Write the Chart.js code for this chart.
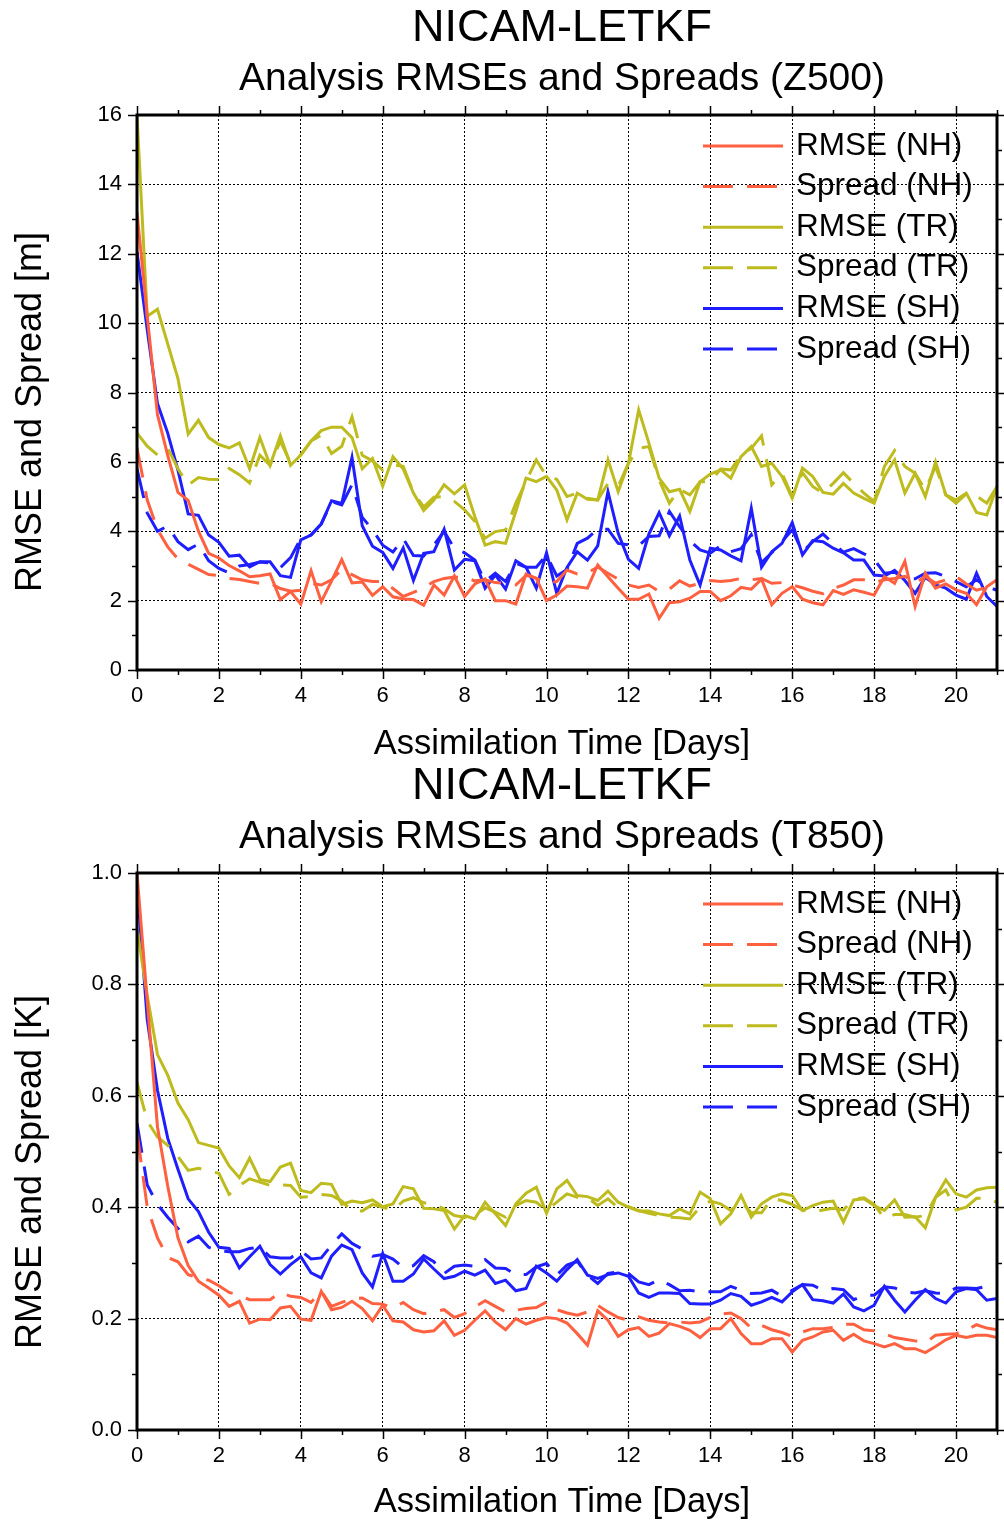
<!DOCTYPE html>
<html>
<head>
<meta charset="utf-8">
<script src="https://cdn.jsdelivr.net/npm/chart.js@4.4.1/dist/chart.umd.min.js"></script>
<style>
html,body{margin:0;padding:0;background:#fff;}
body{width:1004px;height:1521px;position:relative;overflow:hidden;}
.panel{position:absolute;left:0;width:1004px;}
canvas{display:block;}
</style>
</head>
<body>
<div class="panel" style="top:0;height:760px"><canvas id="c1" width="1004" height="760" style="width:1004px;height:760px"></canvas></div>
<div class="panel" style="top:758px;height:763px"><canvas id="c2" width="1004" height="763" style="width:1004px;height:763px"></canvas></div>
<script>
// ---------- data ----------
const DAYS = Array.from({length: 85}, (_, i) => i * 0.25);   // 6-hourly, day 0..21
const X_TICKS = [0, 2, 4, 6, 8, 10, 12, 14, 16, 18, 20];
const X_TICK_LABELS = ['0', '2', '4', '6', '8', '10', '12', '14', '16', '18', '20'];
const Z500_Y_TICKS = [0, 2, 4, 6, 8, 10, 12, 14, 16];
const Z500_Y_TICK_LABELS = ['0', '2', '4', '6', '8', '10', '12', '14', '16'];
const T850_Y_TICKS = [0, 0.2, 0.4, 0.6, 0.8, 1.0];
const T850_Y_TICK_LABELS = ['0.0', '0.2', '0.4', '0.6', '0.8', '1.0'];
const SERIES_LABELS = ['RMSE (NH)', 'Spread (NH)', 'RMSE (TR)', 'Spread (TR)', 'RMSE (SH)', 'Spread (SH)'];
const MAIN_TITLE = 'NICAM-LETKF';
const X_TITLE = 'Assimilation Time [Days]';

// Z500 [m]
const Z500_RMSE_NH = [13.2, 10.2, 7.36, 6.19, 5.12, 4.89, 4.0, 3.36, 3.23, 3.01, 2.86, 2.69, 2.72, 2.77, 2.03, 2.26, 1.9, 2.86, 1.97, 2.56, 3.18, 2.51, 2.54, 2.15, 2.4, 2.11, 2.05, 2.03, 1.87, 2.45,
  2.16, 2.71, 2.12, 2.48, 2.62, 2.0, 2.0, 1.9, 2.77, 2.64, 2.0, 2.16, 2.42, 2.4, 2.36, 3.03, 2.69, 2.36, 2.04, 2.04, 2.19, 1.49, 1.94, 1.97, 2.07, 2.26, 2.26, 2.0,
  2.14, 2.38, 2.33, 2.62, 1.88, 2.21, 2.4, 2.04, 1.94, 1.88, 2.29, 2.18, 2.31, 2.24, 2.16, 2.69, 2.5, 3.13, 1.83, 2.79, 2.36, 2.48, 2.31, 2.21, 1.88, 2.4, 2.6];
const Z500_SPREAD_NH = [6.4, 4.9, 4.05, 3.55, 3.2, 3.05, 2.9, 2.75, 2.72, 2.64, 2.61, 2.55, 2.5, 2.5, 2.35, 2.27, 2.3, 2.5, 2.45, 2.6, 2.9, 2.75, 2.6, 2.55, 2.55, 2.35, 2.12, 2.24, 2.37, 2.55,
  2.64, 2.68, 2.67, 2.57, 2.6, 2.52, 2.5, 2.45, 2.73, 2.65, 2.5, 2.55, 2.88, 2.77, 2.8, 2.97, 2.79, 2.62, 2.45, 2.38, 2.45, 2.26, 2.33, 2.57, 2.42, 2.5, 2.58, 2.55,
  2.58, 2.64, 2.6, 2.64, 2.5, 2.52, 2.45, 2.37, 2.27, 2.2, 2.35, 2.45, 2.6, 2.6, 2.52, 2.6, 2.64, 2.7, 2.5, 2.7, 2.5, 2.6, 2.7, 2.48, 2.3, 2.38, 2.6];
const Z500_RMSE_TR = [16.0, 10.2, 10.4, 9.4, 8.4, 6.8, 7.2, 6.7, 6.5, 6.4, 6.55, 5.8, 6.7, 5.9, 6.75, 5.9, 6.2, 6.6, 6.9, 7.0, 7.0, 6.7, 5.8, 6.1, 5.3, 6.15, 5.8, 5.1, 4.6, 4.9,
  5.34, 5.08, 5.34, 4.42, 3.6, 3.7, 3.65, 4.57, 5.53, 5.43, 5.58, 5.19, 4.33, 5.1, 4.92, 4.9, 6.06, 5.14, 5.96, 7.5, 6.54, 5.53, 5.14, 5.21, 4.57, 5.43, 5.65, 5.77,
  5.53, 6.15, 6.44, 5.87, 5.96, 5.58, 4.95, 5.82, 5.58, 5.12, 5.07, 5.38, 5.1, 4.95, 4.81, 5.58, 6.06, 5.1, 5.67, 5.0, 6.0, 5.05, 4.9, 5.1, 4.54, 4.47, 5.29];
const Z500_SPREAD_TR = [6.83, 6.45, 6.2, 6.4, 5.8, 5.33, 5.55, 5.5, 5.49, 5.81, 5.63, 5.39, 6.19, 5.9, 6.6, 5.97, 6.2, 6.6, 6.77, 6.24, 6.45, 7.3, 6.19, 6.03, 5.76, 5.92, 5.87, 5.12, 4.7, 4.98,
  5.0, 4.86, 4.62, 4.28, 3.8, 3.99, 4.04, 4.81, 5.43, 6.06, 5.58, 5.5, 5.0, 5.1, 4.95, 4.9, 5.38, 5.29, 5.96, 6.39, 6.44, 5.48, 4.81, 5.21, 5.05, 5.43, 5.43, 5.79,
  5.77, 6.2, 6.39, 6.75, 5.34, 5.67, 5.0, 5.69, 5.29, 5.1, 5.38, 5.69, 5.38, 5.1, 4.86, 5.87, 6.33, 5.87, 5.67, 5.19, 5.87, 5.05, 4.81, 5.08, 5.02, 4.81, 5.29];
const Z500_RMSE_SH = [12.05, 9.81, 7.68, 6.83, 5.76, 4.5, 4.46, 3.89, 3.68, 3.28, 3.31, 2.97, 3.12, 3.12, 2.72, 2.67, 3.75, 3.89, 4.21, 4.88, 4.8, 6.13, 4.16, 3.57, 3.39, 2.93, 3.52, 2.58, 3.36, 3.41,
  4.06, 2.88, 3.19, 3.15, 2.36, 2.74, 2.33, 3.15, 2.96, 2.36, 3.38, 2.21, 2.96, 3.41, 3.17, 3.58, 5.14, 3.94, 3.19, 2.93, 3.92, 4.54, 3.87, 4.44, 3.17, 2.45, 3.51, 3.46,
  3.29, 3.15, 4.66, 2.96, 3.41, 3.65, 4.25, 3.32, 3.73, 3.7, 3.51, 3.38, 3.17, 3.17, 2.74, 2.71, 2.87, 2.58, 2.21, 2.67, 2.45, 2.36, 2.16, 2.04, 2.79, 2.12, 1.83];
const Z500_SPREAD_SH = [5.8, 4.53, 4.0, 4.15, 3.7, 3.47, 3.63, 3.15, 2.93, 2.8, 3.0, 3.04, 3.11, 3.09, 2.95, 3.24, 3.79, 3.89, 4.21, 4.85, 4.76, 5.34, 4.4, 4.05, 3.6, 3.4, 3.79, 3.3, 3.29, 3.6,
  4.0, 3.5, 3.38, 3.17, 2.55, 2.79, 2.55, 3.08, 2.96, 2.96, 3.32, 2.71, 2.9, 3.65, 3.8, 4.06, 4.06, 3.65, 3.61, 3.58, 3.85, 3.87, 4.57, 4.13, 3.73, 3.46, 3.37, 3.58,
  3.41, 3.5, 3.9, 3.1, 3.38, 3.7, 4.04, 3.4, 3.7, 3.92, 3.65, 3.4, 3.5, 3.35, 3.19, 2.79, 2.82, 2.63, 2.63, 2.79, 2.8, 2.7, 2.55, 2.4, 2.6, 2.4, 2.3];

// T850 [K]
const T850_RMSE_NH = [1.0, 0.77, 0.544, 0.438, 0.345, 0.295, 0.267, 0.255, 0.242, 0.222, 0.231, 0.192, 0.199, 0.198, 0.219, 0.222, 0.199, 0.197, 0.249, 0.216, 0.22, 0.231, 0.218, 0.196, 0.224, 0.196, 0.194, 0.18, 0.176, 0.178,
  0.196, 0.17, 0.179, 0.197, 0.214, 0.194, 0.18, 0.2, 0.19, 0.197, 0.202, 0.2, 0.192, 0.173, 0.152, 0.214, 0.197, 0.168, 0.18, 0.184, 0.168, 0.174, 0.191, 0.186, 0.179, 0.166, 0.182, 0.182,
  0.2, 0.173, 0.155, 0.155, 0.164, 0.164, 0.14, 0.161, 0.167, 0.176, 0.179, 0.161, 0.172, 0.16, 0.155, 0.149, 0.155, 0.146, 0.146, 0.139, 0.15, 0.162, 0.17, 0.166, 0.17, 0.17, 0.166];
const T850_SPREAD_NH = [0.534, 0.4, 0.345, 0.31, 0.302, 0.279, 0.273, 0.269, 0.259, 0.247, 0.242, 0.234, 0.234, 0.234, 0.247, 0.24, 0.238, 0.229, 0.249, 0.222, 0.229, 0.236, 0.237, 0.227, 0.226, 0.219, 0.229, 0.216, 0.209, 0.212,
  0.216, 0.202, 0.209, 0.221, 0.232, 0.222, 0.212, 0.215, 0.218, 0.22, 0.23, 0.216, 0.21, 0.206, 0.212, 0.224, 0.212, 0.202, 0.197, 0.203, 0.197, 0.194, 0.192, 0.194, 0.192, 0.194, 0.202, 0.208,
  0.21, 0.2, 0.183, 0.188, 0.18, 0.175, 0.168, 0.176, 0.182, 0.182, 0.184, 0.19, 0.19, 0.18, 0.178, 0.173, 0.166, 0.163, 0.16, 0.157, 0.17, 0.172, 0.173, 0.179, 0.189, 0.183, 0.18];
const T850_RMSE_TR = [0.9, 0.78, 0.674, 0.637, 0.587, 0.557, 0.516, 0.511, 0.506, 0.474, 0.453, 0.488, 0.45, 0.446, 0.472, 0.479, 0.43, 0.426, 0.443, 0.441, 0.405, 0.411, 0.408, 0.413, 0.401, 0.406, 0.437, 0.433, 0.398, 0.397,
  0.394, 0.361, 0.385, 0.379, 0.409, 0.388, 0.367, 0.406, 0.425, 0.436, 0.389, 0.433, 0.448, 0.421, 0.419, 0.412, 0.429, 0.409, 0.4, 0.393, 0.393, 0.388, 0.385, 0.397, 0.388, 0.427, 0.415, 0.37,
  0.388, 0.421, 0.382, 0.406, 0.418, 0.424, 0.421, 0.394, 0.403, 0.409, 0.411, 0.373, 0.413, 0.415, 0.403, 0.394, 0.413, 0.382, 0.383, 0.363, 0.418, 0.449, 0.424, 0.418, 0.431, 0.435, 0.436];
const T850_SPREAD_TR = [0.624, 0.555, 0.526, 0.511, 0.491, 0.466, 0.47, 0.465, 0.461, 0.423, 0.439, 0.451, 0.445, 0.439, 0.44, 0.439, 0.418, 0.419, 0.423, 0.421, 0.411, 0.393, 0.393, 0.405, 0.4, 0.395, 0.411, 0.417, 0.408, 0.405,
  0.397, 0.385, 0.382, 0.385, 0.399, 0.391, 0.382, 0.403, 0.412, 0.409, 0.394, 0.409, 0.424, 0.418, 0.417, 0.403, 0.415, 0.399, 0.401, 0.394, 0.389, 0.385, 0.382, 0.381, 0.379, 0.4, 0.411, 0.406,
  0.394, 0.41, 0.39, 0.39, 0.415, 0.412, 0.405, 0.395, 0.391, 0.395, 0.398, 0.395, 0.415, 0.417, 0.405, 0.38, 0.387, 0.387, 0.382, 0.385, 0.418, 0.431, 0.395, 0.4, 0.416, 0.416, 0.409];
const T850_RMSE_SH = [0.98, 0.737, 0.61, 0.524, 0.468, 0.415, 0.392, 0.355, 0.328, 0.326, 0.291, 0.311, 0.33, 0.297, 0.28, 0.297, 0.311, 0.282, 0.273, 0.312, 0.332, 0.324, 0.282, 0.257, 0.317, 0.267, 0.267, 0.28, 0.307, 0.289,
  0.272, 0.276, 0.285, 0.278, 0.287, 0.263, 0.269, 0.25, 0.254, 0.294, 0.282, 0.267, 0.288, 0.306, 0.278, 0.272, 0.279, 0.282, 0.276, 0.246, 0.238, 0.246, 0.246, 0.245, 0.227, 0.226, 0.226, 0.233,
  0.245, 0.24, 0.224, 0.23, 0.238, 0.23, 0.248, 0.261, 0.234, 0.232, 0.228, 0.244, 0.221, 0.214, 0.224, 0.258, 0.233, 0.212, 0.233, 0.252, 0.236, 0.228, 0.248, 0.254, 0.252, 0.233, 0.236];
const T850_SPREAD_SH = [0.551, 0.44, 0.405, 0.382, 0.362, 0.338, 0.348, 0.328, 0.322, 0.32, 0.32, 0.326, 0.328, 0.311, 0.309, 0.309, 0.322, 0.307, 0.309, 0.332, 0.352, 0.335, 0.325, 0.312, 0.315, 0.307, 0.292, 0.295, 0.313, 0.302,
  0.281, 0.294, 0.296, 0.294, 0.306, 0.291, 0.29, 0.279, 0.279, 0.293, 0.299, 0.278, 0.296, 0.303, 0.278, 0.263, 0.281, 0.284, 0.281, 0.266, 0.261, 0.27, 0.261, 0.25, 0.251, 0.248, 0.248, 0.248,
  0.258, 0.251, 0.245, 0.246, 0.251, 0.24, 0.251, 0.261, 0.26, 0.251, 0.254, 0.252, 0.234, 0.242, 0.242, 0.257, 0.255, 0.248, 0.246, 0.25, 0.246, 0.245, 0.255, 0.255, 0.254, 0.258, 0.261];

// ---------- styling ----------
const FONT = '"Liberation Sans", Arial, Helvetica, sans-serif';
const COLOR_NH = '#FF6040';
const COLOR_TR = '#BDBB1E';
const COLOR_SH = '#1E1EFF';
const DASH = [30, 14];
Chart.defaults.font.family = FONT;
Chart.defaults.color = '#000';

// legend without box, drawn inside plot area
const plainLegend = {
  id: 'plainLegend',
  afterDatasetsDraw(chart, args, o) {
    const ctx = chart.ctx, a = chart.chartArea;
    ctx.save();
    ctx.font = o.fontSize + 'px ' + FONT;
    ctx.textBaseline = 'middle';
    ctx.textAlign = 'left';
    ctx.fillStyle = '#000';
    o.order.forEach((idx, row) => {
      const ds = chart.data.datasets[idx];
      const y = a.top + o.firstRow + row * o.rowGap;
      ctx.beginPath();
      ctx.setLineDash(ds.borderDash || []);
      ctx.strokeStyle = ds.borderColor;
      ctx.lineWidth = 3;
      ctx.moveTo(o.lineX0, y);
      ctx.lineTo(o.lineX1, y);
      ctx.stroke();
      ctx.setLineDash([]);
      ctx.fillText(ds.label, o.textX, y);
    });
    ctx.restore();
  }
};

// thick frame with outward major/minor ticks on all four sides
const frameTicks = {
  id: 'frameTicks',
  afterDatasetsDraw(chart, args, o) {
    const ctx = chart.ctx, a = chart.chartArea;
    const xs = chart.scales.x, ys = chart.scales.y;
    ctx.save();
    ctx.strokeStyle = '#000';
    ctx.lineWidth = 1.5;
    ctx.setLineDash([]);
    ctx.beginPath();
    for (let k = 0; k <= o.xMax / o.xMinor + 1e-9; k++) {
      const v = k * o.xMinor;
      const px = Math.round(xs.getPixelForValue(v)) + 0.5;
      const len = (Math.abs(v / o.xMajor - Math.round(v / o.xMajor)) < 1e-6) ? o.major : o.minor;
      ctx.moveTo(px, a.bottom); ctx.lineTo(px, a.bottom + len);
      ctx.moveTo(px, a.top); ctx.lineTo(px, a.top - len);
    }
    for (let k = 0; k <= o.yMax / o.yMinor + 1e-9; k++) {
      const v = k * o.yMinor;
      const py = Math.round(ys.getPixelForValue(v)) + 0.5;
      const len = (Math.abs(v / o.yMajor - Math.round(v / o.yMajor)) < 1e-6) ? o.major : o.minor;
      ctx.moveTo(a.left, py); ctx.lineTo(a.left - len, py);
      ctx.moveTo(a.right, py); ctx.lineTo(a.right + len, py);
    }
    ctx.stroke();
    ctx.lineWidth = 3;
    ctx.strokeRect(a.left, a.top, a.right - a.left, a.bottom - a.top);
    ctx.restore();
  }
};

// titles placed like the original figure
const figureText = {
  id: 'figureText',
  afterDraw(chart, args, o) {
    const ctx = chart.ctx;
    ctx.save();
    ctx.fillStyle = '#000';
    ctx.textAlign = 'center';
    ctx.textBaseline = 'alphabetic';
    ctx.font = o.titleSize + 'px ' + FONT;
    ctx.fillText(o.title, o.cx, o.titleBase);
    ctx.font = o.subSize + 'px ' + FONT;
    ctx.fillText(o.subtitle, o.cx, o.subBase);
    ctx.font = o.xSize + 'px ' + FONT;
    ctx.fillText(o.xText, o.cx, o.xBase);
    ctx.translate(o.yBaseX, o.yCy);
    ctx.rotate(-Math.PI / 2);
    ctx.font = o.ySize + 'px ' + FONT;
    ctx.fillText(o.yText, 0, 0);
    ctx.restore();
  }
};

function makeChart(id, p) {
  const series = [
    {values: p.rmseNH, color: COLOR_NH, dashed: false, label: SERIES_LABELS[0]},
    {values: p.spreadNH, color: COLOR_NH, dashed: true, label: SERIES_LABELS[1]},
    {values: p.rmseTR, color: COLOR_TR, dashed: false, label: SERIES_LABELS[2]},
    {values: p.spreadTR, color: COLOR_TR, dashed: true, label: SERIES_LABELS[3]},
    {values: p.rmseSH, color: COLOR_SH, dashed: false, label: SERIES_LABELS[4]},
    {values: p.spreadSH, color: COLOR_SH, dashed: true, label: SERIES_LABELS[5]}
  ];
  return new Chart(document.getElementById(id), {
    type: 'line',
    data: {
      datasets: series.map((s, i) => ({
        label: s.label,
        data: DAYS.map((d, k) => ({x: d, y: s.values[k]})),
        borderColor: s.color,
        backgroundColor: s.color,
        borderWidth: 3,
        borderDash: s.dashed ? DASH : [],
        pointRadius: 0,
        tension: 0,
        fill: false,
        order: i
      }))
    },
    options: {
      responsive: false,
      animation: false,
      devicePixelRatio: 1,
      events: [],
      layout: {padding: {left: 0, right: 7, top: 115, bottom: 0}},
      plugins: {
        legend: {display: false},
        tooltip: {enabled: false},
        title: {display: false},
        subtitle: {display: false},
        plainLegend: {order: [0, 1, 2, 3, 4, 5], fontSize: 31.5, firstRow: 31, rowGap: 40.6,
          lineX0: 703, lineX1: 783, textX: 796},
        frameTicks: {xMax: 21, xMinor: 1, xMajor: 2, yMax: p.yMax, yMinor: p.yMinor, yMajor: p.yMajor,
          major: 9, minor: 5},
        figureText: {cx: 562, title: MAIN_TITLE, titleSize: 45, titleBase: 40.5,
          subtitle: p.subtitle, subSize: 39, subBase: 89.5,
          xText: X_TITLE, xSize: 34.5, xBase: 753.5,
          yText: p.yTitle, ySize: 36, yBaseX: 41, yCy: p.yTitleCy}
      },
      scales: {
        x: {
          type: 'linear', min: 0, max: 21,
          afterBuildTicks: s => { s.ticks = X_TICKS.map(v => ({value: v})); },
          afterFit: s => { s.height = p.xHeight; },
          ticks: {callback: (v, i) => X_TICK_LABELS[i], font: {size: 22}, color: '#000', padding: 13, maxRotation: 0, autoSkip: false},
          grid: {color: '#000', lineWidth: 1, drawTicks: false},
          border: {display: false, dash: [2, 2]},
          title: {display: false}
        },
        y: {
          type: 'linear', min: 0, max: p.yMax,
          afterBuildTicks: s => { s.ticks = p.yTicks.map(v => ({value: v})); },
          afterFit: s => { s.width = 137; },
          ticks: {callback: (v, i) => p.yTickLabels[i], font: {size: 22}, color: '#000', padding: 15, autoSkip: false},
          grid: {color: '#000', lineWidth: 1, drawTicks: false},
          border: {display: false, dash: [2, 2]},
          title: {display: false}
        }
      }
    },
    plugins: [plainLegend, frameTicks, figureText]
  });
}

makeChart('c1', {
  subtitle: 'Analysis RMSEs and Spreads (Z500)',
  yTitle: 'RMSE and Spread [m]', yTitleCy: 412,
  yMax: 16, yMinor: 1, yMajor: 2, yTicks: Z500_Y_TICKS, yTickLabels: Z500_Y_TICK_LABELS,
  xHeight: 90,
  rmseNH: Z500_RMSE_NH, spreadNH: Z500_SPREAD_NH, rmseTR: Z500_RMSE_TR, spreadTR: Z500_SPREAD_TR,
  rmseSH: Z500_RMSE_SH, spreadSH: Z500_SPREAD_SH
});
makeChart('c2', {
  subtitle: 'Analysis RMSEs and Spreads (T850)',
  yTitle: 'RMSE and Spread [K]', yTitleCy: 414,
  yMax: 1.0, yMinor: 0.1, yMajor: 0.2, yTicks: T850_Y_TICKS, yTickLabels: T850_Y_TICK_LABELS,
  xHeight: 91,
  rmseNH: T850_RMSE_NH, spreadNH: T850_SPREAD_NH, rmseTR: T850_RMSE_TR, spreadTR: T850_SPREAD_TR,
  rmseSH: T850_RMSE_SH, spreadSH: T850_SPREAD_SH
});
</script>
</body>
</html>
